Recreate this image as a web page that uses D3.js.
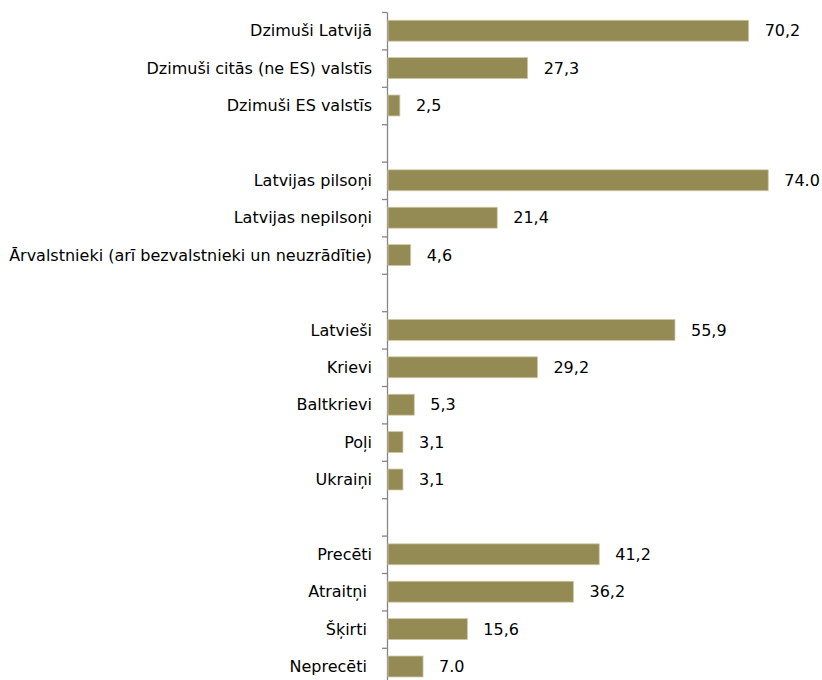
<!DOCTYPE html>
<html>
<head>
<meta charset="utf-8">
<script src="https://cdn.jsdelivr.net/npm/d3@7"></script>
<style>
  html, body { margin: 0; padding: 0; background: #fff; }
  svg { display: block; }
  text { font-family: "DejaVu Sans", Verdana, sans-serif; font-size: 16px; fill: #000; white-space: pre; }
</style>
</head>
<body>
<svg id="chart" width="822" height="680"></svg>
<script>
// Data (null = blank separator row)
const categories = [
  "Dzimuši Latvijā", "Dzimuši citās (ne ES) valstīs", "Dzimuši ES valstīs", null,
  "Latvijas pilsoņi", "Latvijas nepilsoņi", "Ārvalstnieki (arī bezvalstnieki un neuzrādītie)", null,
  "Latvieši", "Krievi", "Baltkrievi", "Poļi", "Ukraiņi", null,
  "Precēti", "Atraitņi ", "Šķirti ", "Neprecēti "
];
const values = [70.2, 27.3, 2.5, null, 74.0, 21.4, 4.6, null, 55.9, 29.2, 5.3, 3.1, 3.1, null, 41.2, 36.2, 15.6, 7.0];
const valueLabels = ["70,2", "27,3", "2,5", "", "74.0", "21,4", "4,6", "", "55,9", "29,2", "5,3", "3,1", "3,1", "", "41,2", "36,2", "15,6", "7.0"];

const svg = d3.select("#chart");
const axisX = 387, plotTop = 12, step = 37.4;
const n = categories.length;
const rows = d3.range(n);

const x = d3.scaleLinear().domain([0, 74.0]).range([axisX, axisX + 74.0 * 5.152]);
const y = d3.scaleBand().domain(rows).range([plotTop, plotTop + n * step])
  .paddingInner(0.44).paddingOuter(0.22);
const yEdge = d3.scaleLinear().domain([0, n]).range([plotTop, plotTop + n * step]);

// axis with ticks at band boundaries
const axis = svg.append("g").attr("transform", `translate(${axisX},0)`)
  .call(d3.axisLeft(yEdge).tickValues(d3.range(n + 1)).tickSize(5).tickSizeOuter(0).tickFormat(""));
axis.selectAll("path,line").attr("stroke", "#868686").attr("stroke-width", 1.3);

const data = rows.map(i => ({ i, cat: categories[i], v: values[i], lab: valueLabels[i] }))
  .filter(d => d.cat !== null);

svg.append("g").selectAll("rect").data(data).join("rect")
  .attr("x", x(0) + 1)
  .attr("y", d => y(d.i))
  .attr("width", d => x(d.v) - x(0) - 1)
  .attr("height", y.bandwidth())
  .attr("fill", "#948A54")
  .attr("stroke", "#CFC9A8")
  .attr("stroke-width", 0.8);

svg.append("g").selectAll("text").data(data).join("text")
  .attr("x", axisX - 15)
  .attr("y", d => y(d.i) + y.bandwidth() / 2)
  .attr("dy", "0.36em")
  .attr("text-anchor", "end")
  .text(d => d.cat);

svg.append("g").selectAll("text").data(data).join("text")
  .attr("x", d => x(d.v) + 16)
  .attr("y", d => y(d.i) + y.bandwidth() / 2)
  .attr("dy", "0.36em")
  .text(d => d.lab);
</script>
</body>
</html>
